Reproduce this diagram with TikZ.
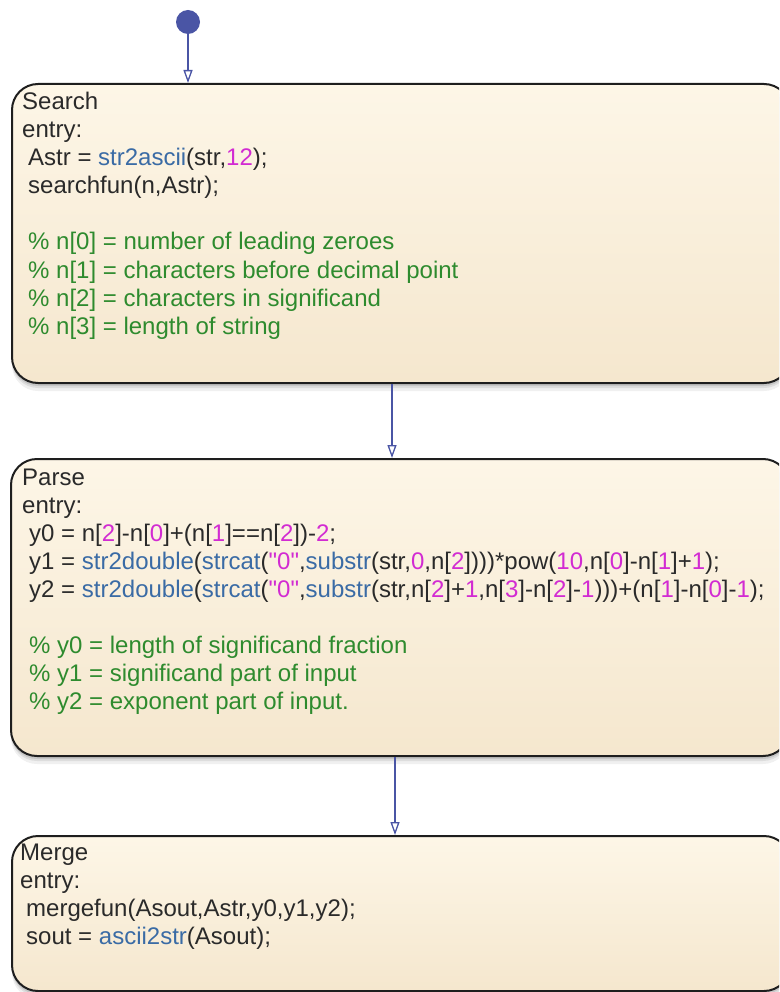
\documentclass[tikz,border=0pt]{standalone}
\usepackage{fontspec}
\setmainfont{Liberation Sans}[Ligatures=TeXOff]
\usetikzlibrary{arrows.meta,shadows}
\definecolor{txt}{HTML}{2A2A2A}
\definecolor{kwblue}{HTML}{3A6BA5}
\definecolor{nummag}{HTML}{D22BD2}
\definecolor{cmgreen}{HTML}{2E8B2E}
\definecolor{arrblue}{HTML}{4A55A5}
\definecolor{boxtop}{HTML}{FDF6E7}
\definecolor{boxbot}{HTML}{F5E7CE}
\definecolor{boxline}{HTML}{1E1E1E}
\newcommand\kw[1]{\textcolor{kwblue}{#1}}
\newcommand\nm[1]{\textcolor{nummag}{#1}}
\newcommand\dq{\symbol{34}}
\tikzset{
  statebox/.style={draw=boxline, line width=2pt, rounded corners=26pt,
    top color=boxtop, bottom color=boxbot, minimum width=778pt,
    anchor=north west, inner sep=0pt,
    general shadow={fill=black, opacity=0.06, shadow yshift=-8pt},
    general shadow={fill=black, opacity=0.08, shadow yshift=-5pt},
    general shadow={fill=black, opacity=0.10, shadow yshift=-3pt}},
  codeline/.style={anchor=base west, inner sep=0pt, text=txt,
    font=\fontsize{24}{28}\selectfont},
  cmline/.style={codeline, text=cmgreen},
  trans/.style={draw=arrblue, line width=1.3pt,
    -{Triangle[open, length=13pt, width=9pt, line width=1.3pt]}},
  startdot/.style={circle, fill=arrblue, minimum size=24pt, inner sep=0pt}
}
\begin{document}
\begin{tikzpicture}[x=1pt,y=-1pt]
\useasboundingbox (0,0) rectangle (779,992);
\clip (0,0) rectangle (779,992);

% boxes
\node[statebox, minimum height=299pt] (search) at (11,83) {};
\node[statebox, minimum height=297pt] (parse) at (10,458) {};
\node[statebox, minimum height=155pt] (merge) at (11,835) {};

% start dot
\node[startdot] (start) at (188,22) {};

% transitions
\draw[trans] (start.south) -- (start.south |- search.north);
\draw[trans] ([xshift=381pt]search.south west) -- ([xshift=382pt]parse.north west);
\draw[trans] ([xshift=385pt]parse.south west) -- ([xshift=384pt]merge.north west);

% Search text
\node[codeline] (s1) at (22,110) {Search};
\node[codeline] (s2) at (22,138) {entry:};
\node[codeline] (s3) at (28,166) {Astr = \kw{str2ascii}(str,\nm{12});};
\node[codeline] (s4) at (28,194) {searchfun(n,Astr);};
\node[cmline] (s5) at (28,250) {\% n[0] = number of leading zeroes};
\node[cmline] (s6) at (28,278) {\% n[1] = characters before decimal point};
\node[cmline] (s7) at (28,306) {\% n[2] = characters in significand};
\node[cmline] (s8) at (28,334) {\% n[3] = length of string};

% Parse text
\node[codeline] (p1) at (22,485) {Parse};
\node[codeline] (p2) at (22,513) {entry:};
\node[codeline] (p3) at (29,541) {y0 = n[\nm{2}]-n[\nm{0}]+(n[\nm{1}]==n[\nm{2}])-\nm{2};};
\node[codeline] (p4) at (29,569) {y1 = \kw{str2double}(\kw{strcat}(\nm{\dq0\dq},\kw{substr}(str,\nm{0},n[\nm{2}])))*pow(\nm{10},n[\nm{0}]-n[\nm{1}]+\nm{1});};
\node[codeline] (p5) at (29,597) {y2 = \kw{str2double}(\kw{strcat}(\nm{\dq0\dq},\kw{substr}(str,n[\nm{2}]+\nm{1},n[\nm{3}]-n[\nm{2}]-\nm{1})))+(n[\nm{1}]-n[\nm{0}]-\nm{1});};
\node[cmline] (p6) at (29,653) {\% y0 = length of significand fraction};
\node[cmline] (p7) at (29,681) {\% y1 = significand part of input};
\node[cmline] (p8) at (29,709) {\% y2 = exponent part of input.};

% Merge text
\node[codeline] (m1) at (20,860) {Merge};
\node[codeline] (m2) at (20,888) {entry:};
\node[codeline] (m3) at (26,916) {mergefun(Asout,Astr,y0,y1,y2);};
\node[codeline] (m4) at (26,944) {sout = \kw{ascii2str}(Asout);};
\end{tikzpicture}
\end{document}
